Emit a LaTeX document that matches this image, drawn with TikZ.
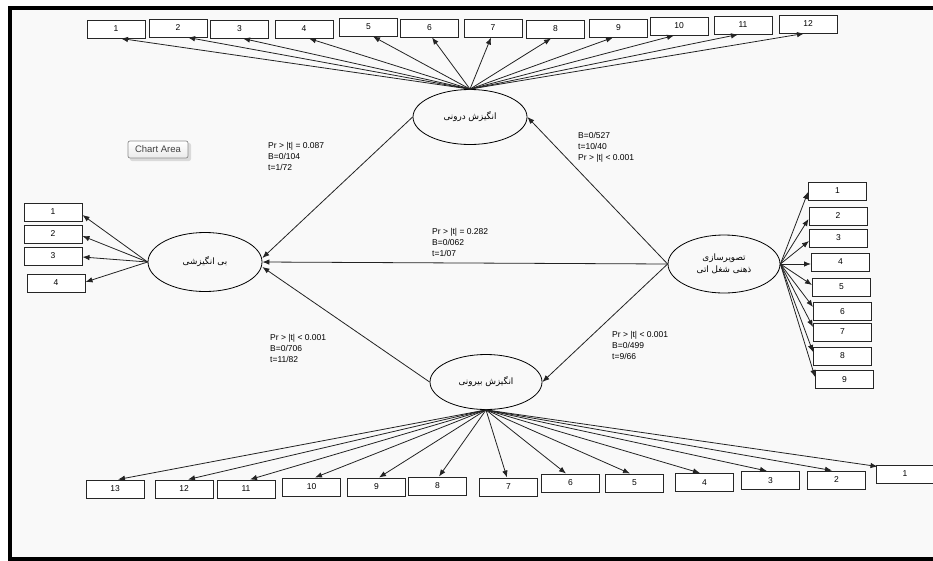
\documentclass[tikz,border=0pt]{standalone}
\usepackage{fontspec}
\setmainfont{Liberation Sans}
\newfontfamily\fa[Script=Arabic]{DejaVu Sans}
\TeXXeTstate=1
\usetikzlibrary{shapes.geometric,arrows.meta}
\definecolor{bgc}{RGB}{249,249,249}
\definecolor{lnc}{RGB}{35,35,35}
\begin{document}
\begin{tikzpicture}[x=1pt,y=-1pt,
  box/.style={draw=black!85,line width=1pt,fill=white,rectangle,minimum width=58pt,minimum height=18pt,inner sep=0pt,font=\fontsize{8.5}{10}\selectfont},
  lat/.style={draw=black,line width=0.8pt,ellipse,fill=bgc,inner sep=0pt,font=\fa\fontsize{8.8}{12}\selectfont,align=center},
  arr/.style={draw=lnc,line width=0.8pt,-{Latex[length=7pt,width=5.5pt]}},
  lbl/.style={anchor=north west,inner sep=0pt,align=left,font=\fontsize{8.5}{11}\selectfont}]
\useasboundingbox (0,0) rectangle (933,560);
\fill[white] (0,0) rectangle (933,560);
\fill[bgc] (10,8) rectangle (945,558.5);
\draw[line width=4pt] (10,8) rectangle (945,558.5);

% latent ellipses
\node[lat,minimum width=114pt,minimum height=55pt] (ie) at (470,117) {\beginR انگیزش درونی\endR};
\node[lat,minimum width=114pt,minimum height=59pt] (le) at (205,262) {\beginR بی انگیزشی\endR};
\node[lat,minimum width=112pt,minimum height=55pt] (ee) at (486,382) {\beginR انگیزش بیرونی\endR};
\node[lat,minimum width=112pt,minimum height=58pt] (re) at (724,264) {\beginR تصویرسازی\endR\\\beginR ذهنی شغل اتی\endR};

% top boxes
\node[box] (t1) at (116,29) {1};
\node[box] (t2) at (178,28) {2};
\node[box] (t3) at (239.5,29) {3};
\node[box] (t4) at (304,29) {4};
\node[box] (t5) at (368.5,27) {5};
\node[box] (t6) at (429.5,28) {6};
\node[box] (t7) at (493,28) {7};
\node[box] (t8) at (555.5,29) {8};
\node[box] (t9) at (618.5,28) {9};
\node[box] (t10) at (679,26) {10};
\node[box] (t11) at (743,25) {11};
\node[box] (t12) at (808,24) {12};

% left boxes
\node[box] (l1) at (53,212) {1};
\node[box] (l2) at (53,234) {2};
\node[box] (l3) at (53,256) {3};
\node[box] (l4) at (56,283) {4};

% right boxes
\node[box] (r1) at (837.5,191) {1};
\node[box] (r2) at (838,216) {2};
\node[box] (r3) at (838.5,238) {3};
\node[box] (r4) at (840.5,262) {4};
\node[box] (r5) at (841.5,287) {5};
\node[box] (r6) at (842.5,311.5) {6};
\node[box] (r7) at (842.5,332) {7};
\node[box] (r8) at (842.5,356) {8};
\node[box] (r9) at (844.5,379.5) {9};

% bottom boxes
\node[box] (b13) at (115,489) {13};
\node[box] (b12) at (184,489) {12};
\node[box] (b11) at (246,489) {11};
\node[box] (b10) at (311.5,487) {10};
\node[box] (b9) at (376.5,487) {9};
\node[box] (b8) at (437.5,486) {8};
\node[box] (b7) at (508.5,487) {7};
\node[box] (b6) at (570.5,483) {6};
\node[box] (b5) at (634.5,483) {5};
\node[box] (b4) at (704.5,482.5) {4};
\node[box] (b3) at (770.5,480.5) {3};
\node[box] (b2) at (836.5,480) {2};
\node[box] (b1) at (905,474) {1};

% top arrows
\draw[arr] (ie.north) -- ([xshift=5pt]t1.south);
\draw[arr] (ie.north) -- ([xshift=10pt]t2.south);
\draw[arr] (ie.north) -- ([xshift=3.5pt]t3.south);
\draw[arr] (ie.north) -- ([xshift=5pt]t4.south);
\draw[arr] (ie.north) -- ([xshift=4.5pt]t5.south);
\draw[arr] (ie.north) -- ([xshift=2.5pt]t6.south);
\draw[arr] (ie.north) -- ([xshift=-2pt]t7.south);
\draw[arr] (ie.north) -- ([xshift=-4.5pt]t8.south);
\draw[arr] (ie.north) -- ([xshift=-5.5pt]t9.south);
\draw[arr] (ie.north) -- ([xshift=-5pt]t10.south);
\draw[arr] (ie.north) -- ([xshift=-5pt]t11.south);
\draw[arr] (ie.north) -- ([xshift=-4pt]t12.south);

% left arrows
\draw[arr] (le.west) -- ([yshift=-3pt]l1.east);
\draw[arr] (le.west) -- ([yshift=-2pt]l2.east);
\draw[arr] (le.west) -- ([yshift=-1pt]l3.east);
\draw[arr] (le.west) -- ([yshift=1pt]l4.east);

% right arrows
\draw[arr] (re.east) -- ([yshift=-1pt]r1.west);
\draw[arr] (re.east) -- ([yshift=-3pt]r2.west);
\draw[arr] (re.east) -- ([yshift=-3pt]r3.west);
\draw[arr] (re.east) -- ([yshift=-2pt]r4.west);
\draw[arr] (re.east) -- ([yshift=2pt]r5.west);
\draw[arr] (re.east) -- ([yshift=4.5pt]r6.west);
\draw[arr] (re.east) -- ([yshift=5pt]r7.west);
\draw[arr] (re.east) -- ([yshift=4pt]r8.west);
\draw[arr] (re.east) -- ([yshift=2.5pt]r9.west);

% bottom arrows
\draw[arr] (ee.south) -- ([xshift=3pt]b13.north);
\draw[arr] (ee.south) -- ([xshift=4pt]b12.north);
\draw[arr] (ee.south) -- ([xshift=4pt]b11.north);
\draw[arr] (ee.south) -- ([xshift=3.5pt]b10.north);
\draw[arr] (ee.south) -- ([xshift=2.5pt]b9.north);
\draw[arr] (ee.south) -- ([xshift=1.5pt]b8.north);
\draw[arr] (ee.south) -- ([xshift=-1.5pt]b7.north);
\draw[arr] (ee.south) -- ([xshift=-4.5pt]b6.north);
\draw[arr] (ee.south) -- ([xshift=-4.5pt]b5.north);
\draw[arr] (ee.south) -- ([xshift=-4.5pt]b4.north);
\draw[arr] (ee.south) -- ([xshift=-3.5pt]b3.north);
\draw[arr] (ee.south) -- ([xshift=-4.5pt]b2.north);
\draw[arr] (ee.south) -- ([xshift=2pt,yshift=-2pt]b1.north west);

% structural paths
\draw[arr] (ie.west) -- ([yshift=4pt]le.east);
\draw[arr] (re.west) -- (le.east);
\draw[arr] (ee.west) -- ([yshift=-5pt]le.east);
\draw[arr] (re.west) -- (ie.east);
\draw[arr] (re.west) -- (ee.east);

% path labels
\node[lbl] (p1) at (268,142) {Pr > |t| = 0.087\\B=0/104\\t=1/72};
\node[lbl] (p2) at (578,132) {B=0/527\\t=10/40\\Pr > |t| < 0.001};
\node[lbl] (p3) at (432,228) {Pr > |t| = 0.282\\B=0/062\\t=1/07};
\node[lbl] (p4) at (270,334) {Pr > |t| < 0.001\\B=0/706\\t=11/82};
\node[lbl] (p5) at (612,331) {Pr > |t| < 0.001\\B=0/499\\t=9/66};

% chart area tooltip
\fill[black,opacity=0.12,rounded corners=2pt] (130,143) rectangle (191,161);
\node[draw=black!45,line width=0.7pt,rounded corners=2pt,top color=white,bottom color=black!8,minimum width=60pt,minimum height=17pt,inner sep=0pt,text=black!75,font=\fontsize{9.5}{11}\selectfont] (ca) at (158,149.5) {Chart Area};
\end{tikzpicture}
\end{document}
